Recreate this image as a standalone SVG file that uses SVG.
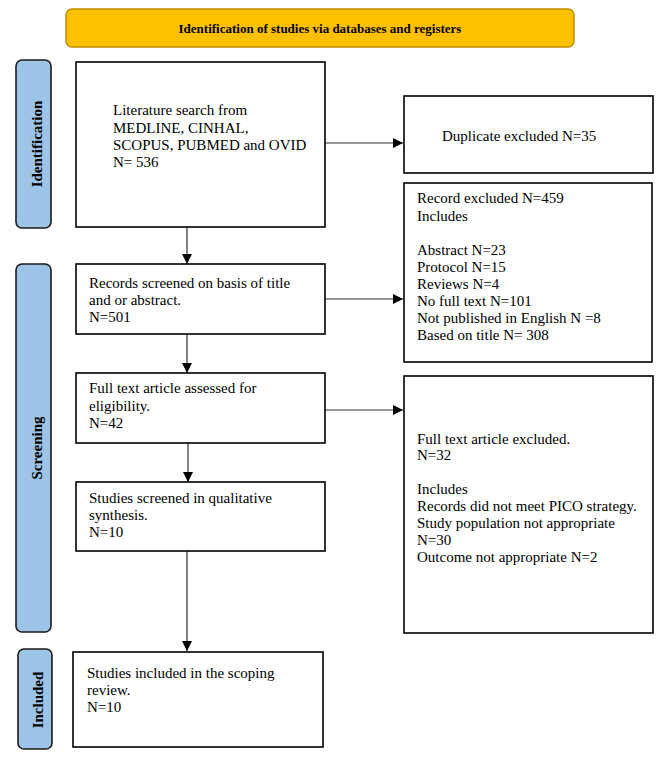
<svg xmlns="http://www.w3.org/2000/svg" width="669" height="759" viewBox="0 0 669 759">
<defs>
<marker id="ah" markerWidth="10" markerHeight="10" refX="10" refY="5" orient="auto" markerUnits="userSpaceOnUse">
<path d="M0,0 L10,5 L0,10 Z" fill="#000"/>
</marker>
<style>
.box{fill:#fff;stroke:#000;stroke-width:1.6}
.side{fill:#9DC3E6;stroke:#1a1a1a;stroke-width:1.6}
.t{font-family:"Liberation Serif","Times New Roman",serif;font-size:15px;fill:#000}
.sl{font-family:"Liberation Serif","Times New Roman",serif;font-size:15px;font-weight:bold;fill:#000;text-anchor:middle}
.h{font-family:"Liberation Serif","Times New Roman",serif;font-size:13px;font-weight:bold;fill:#000;text-anchor:middle}
.c{stroke:#333;stroke-width:1.2;fill:none}
</style>
</defs>
<rect width="669" height="759" fill="#fff"/>
<g id="header">
<rect x="66" y="9" width="508" height="38" rx="6" fill="#FFC000" stroke="#BF9000" stroke-width="1.5"/>
<text class="h" x="320" y="33">Identification of studies via databases and registers</text>
</g>
<g id="side-identification">
<rect class="side" x="16" y="60" width="35" height="168" rx="6"/>
<text class="sl" transform="translate(42,144) rotate(-90)">Identification</text>
</g>
<g id="side-screening">
<rect class="side" x="16" y="264" width="35" height="368" rx="6"/>
<text class="sl" transform="translate(42,448) rotate(-90)">Screening</text>
</g>
<g id="side-included">
<rect class="side" x="18" y="649" width="34" height="100" rx="6"/>
<text class="sl" transform="translate(43,700) rotate(-90)">Included</text>
</g>
<g id="connectors">
<line class="c" x1="187" y1="227" x2="187" y2="264" marker-end="url(#ah)"/>
<line class="c" x1="187" y1="334" x2="187" y2="373" marker-end="url(#ah)"/>
<line class="c" x1="188" y1="443" x2="188" y2="482" marker-end="url(#ah)"/>
<line class="c" x1="187" y1="551" x2="187" y2="651" marker-end="url(#ah)"/>
<line class="c" x1="325" y1="143" x2="403" y2="143" marker-end="url(#ah)"/>
<line class="c" x1="325" y1="299" x2="403" y2="299" marker-end="url(#ah)"/>
<line class="c" x1="325" y1="410" x2="403" y2="410" marker-end="url(#ah)"/>
</g>
<g id="literature-search">
<rect class="box" x="76" y="62" width="249" height="165"/>
<text class="t" x="113" y="115">Literature search from</text>
<text class="t" x="113" y="133">MEDLINE, CINHAL,</text>
<text class="t" x="113" y="150">SCOPUS, PUBMED and OVID</text>
<text class="t" x="113" y="167">N= 536</text>
</g>
<g id="duplicate-excluded">
<rect class="box" x="404" y="96" width="249" height="77"/>
<text class="t" x="442" y="141">Duplicate excluded N=35</text>
</g>
<g id="records-screened">
<rect class="box" x="76" y="264" width="249" height="70"/>
<text class="t" x="89" y="288">Records screened on basis of title</text>
<text class="t" x="89" y="305">and or abstract.</text>
<text class="t" x="89" y="322">N=501</text>
</g>
<g id="record-excluded">
<rect class="box" x="404" y="183" width="248" height="179"/>
<text class="t" x="417" y="203">Record excluded N=459</text>
<text class="t" x="417" y="221">Includes</text>
<text class="t" x="417" y="255">Abstract N=23</text>
<text class="t" x="417" y="272">Protocol N=15</text>
<text class="t" x="417" y="289">Reviews N=4</text>
<text class="t" x="417" y="306">No full text N=101</text>
<text class="t" x="417" y="323">Not published in English N =8</text>
<text class="t" x="417" y="340">Based on title N= 308</text>
</g>
<g id="full-text-assessed">
<rect class="box" x="76" y="373" width="249" height="70"/>
<text class="t" x="89" y="393">Full text article assessed for</text>
<text class="t" x="89" y="411">eligibility.</text>
<text class="t" x="89" y="428">N=42</text>
</g>
<g id="full-text-excluded">
<rect class="box" x="404" y="376" width="249" height="257"/>
<text class="t" x="417" y="444">Full text article excluded.</text>
<text class="t" x="417" y="460">N=32</text>
<text class="t" x="417" y="494">Includes</text>
<text class="t" x="417" y="511">Records did not meet PICO strategy.</text>
<text class="t" x="417" y="528">Study population not appropriate</text>
<text class="t" x="417" y="545">N=30</text>
<text class="t" x="417" y="562">Outcome not appropriate N=2</text>
</g>
<g id="studies-screened">
<rect class="box" x="76" y="482" width="249" height="69"/>
<text class="t" x="89" y="503">Studies screened in qualitative</text>
<text class="t" x="89" y="520">synthesis.</text>
<text class="t" x="89" y="537">N=10</text>
</g>
<g id="studies-included">
<rect class="box" x="73" y="652" width="250" height="95"/>
<text class="t" x="87" y="678">Studies included in the scoping</text>
<text class="t" x="87" y="695">review.</text>
<text class="t" x="87" y="712">N=10</text>
</g>
</svg>
